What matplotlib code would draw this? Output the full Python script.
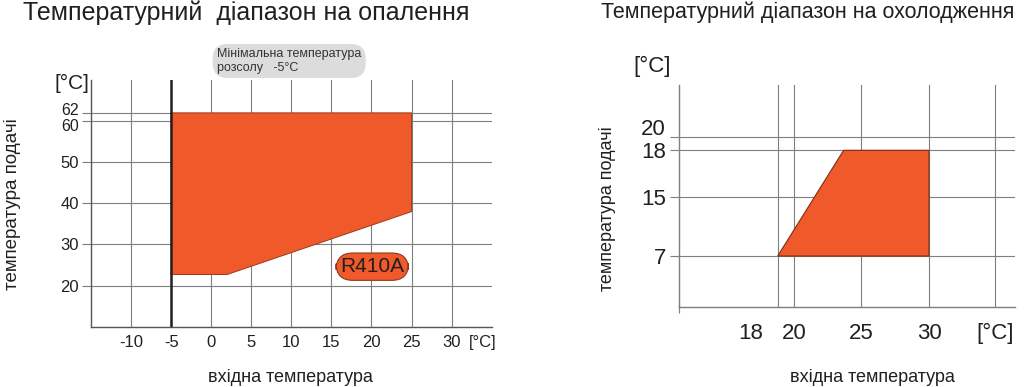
import numpy as np
import matplotlib
matplotlib.use("Agg")
import matplotlib.pyplot as plt
from matplotlib.patches import Polygon
import matplotlib.transforms as mtransforms

plt.rcParams['font.family'] = ['Liberation Sans', 'DejaVu Sans']

# ---- heating range (left) ----
heat_x = [-5, 25, 25, 2, -5]
heat_y = [62, 62, 38, 22.7, 22.7]
heat_xticks = [-10, -5, 0, 5, 10, 15, 20, 25, 30]
heat_yticks = [20, 30, 40, 50, 60, 62]
brine_min = -5

# ---- cooling range (right) ----
cool_x = [18, 23.7, 30, 30]
cool_y = [7, 18, 18, 7]
cool_xticks = [18, 20, 25, 30]
cool_yticks = [7, 15, 18, 20]
cool_xgrid = [18, 20, 25, 30, 35]

# the cooling chart is drawn on an uneven (schematic) scale
cool_xmap = ([10, 18, 20, 25, 30, 35, 36.5], [0, 98.7, 115.3, 182, 250, 316, 336])
cool_ymap = ([0, 7, 15, 18, 20, 25], [0, 51.3, 110.3, 157, 170.3, 222.3])

ORANGE = '#F05A2B'
GRID = '#7f7f7f'
AXC = '#555555'
TXT = '#231f20'

fig = plt.figure(figsize=(10.24, 3.87), dpi=100)

def shift(label, dx_px, dy_px):
    label.set_transform(label.get_transform() +
                        mtransforms.ScaledTranslation(dx_px/100, dy_px/100, fig.dpi_scale_trans))

# ===== left chart =====
ax = fig.add_axes([91/1024, 1-326.7/387, 400.7/1024, 246.7/387])
ax.set_xlim(-15, 35)
ax.set_ylim(10, 70)
for s in ['top', 'right']:
    ax.spines[s].set_visible(False)
for s in ['left', 'bottom']:
    ax.spines[s].set_color(AXC)
    ax.spines[s].set_linewidth(1.0)
ax.set_xticks(heat_xticks)
ax.set_xticklabels([str(v) for v in heat_xticks], fontsize=12, color=TXT)
ax.set_yticks(heat_yticks)
ax.set_yticklabels([str(v) for v in heat_yticks], fontsize=12, color=TXT)
ax.tick_params(axis='x', length=0, pad=6)
ax.tick_params(axis='y', length=6.5, color=GRID, width=0.8, pad=2)
ylabs = ax.get_yticklabels()
ylabs[-1].set_fontsize(11.5)
ylabs[-2].set_fontsize(11.5)
shift(ylabs[-1], 0, 3.5)
shift(ylabs[-2], 0, -3.5)
ax.grid(True, color=GRID, linewidth=0.8)
ax.set_axisbelow(True)
ax.add_patch(Polygon(np.column_stack([heat_x, heat_y]), closed=True,
                     facecolor=ORANGE, edgecolor='#9a3a1c', linewidth=0.7, zorder=2))
ax.axvline(brine_min, color=TXT, linewidth=1.8, zorder=3)
ax.text(32.2, 10, '[°C]', fontsize=12, color=TXT, va='top', ha='left')
shift(ax.texts[-1], 0, -8)
ax.text(20.1, 24.6, 'R410A', fontsize=15, color=TXT, ha='center', va='center',
        bbox=dict(boxstyle='round,pad=0.2,rounding_size=0.8', facecolor=ORANGE,
                  edgecolor='#8a3a1c', linewidth=0.8))
fig.text(72/1024, 1-83/387, '[°C]', fontsize=15, color=TXT, ha='center', va='center')
fig.text(217/1024, 1-61/387, 'Мінімальна температура\nрозсолу   -5°C', fontsize=9,
         color='#333333', ha='left', va='center', linespacing=1.15,
         bbox=dict(boxstyle='round,pad=0.35,rounding_size=1.2', facecolor='#dcdcdc',
                   edgecolor='none'))
fig.text(246/1024, 1-13/387, 'Температурний  діапазон на опалення', fontsize=18,
         color=TXT, ha='center', va='center')
fig.text(13/1024, 1-204/387, 'температура подачі', fontsize=13.5, rotation=90,
         color=TXT, ha='center', va='center')
fig.text(290/1024, 1-378/387, 'вхідна температура', fontsize=13,
         color=TXT, ha='center', va='center')

# ===== right chart =====
def fx(v):
    return np.interp(v, cool_xmap[0], cool_xmap[1])
def fx_inv(v):
    return np.interp(v, cool_xmap[1], cool_xmap[0])
def fy(v):
    return np.interp(v, cool_ymap[0], cool_ymap[1])
def fy_inv(v):
    return np.interp(v, cool_ymap[1], cool_ymap[0])

bx = fig.add_axes([679/1024, 1-307.3/387, 336/1024, 222.3/387])
bx.set_xscale('function', functions=(fx, fx_inv))
bx.set_yscale('function', functions=(fy, fy_inv))
bx.set_xlim(10, 36.5)
bx.set_ylim(0, 25)
for s in ['top', 'right']:
    bx.spines[s].set_visible(False)
for s in ['left', 'bottom']:
    bx.spines[s].set_color(GRID)
    bx.spines[s].set_linewidth(1.0)
for v in cool_xgrid:
    bx.axvline(v, color=GRID, linewidth=0.8, zorder=1)
bx.set_yticks(cool_yticks)
bx.set_yticklabels([str(v) for v in cool_yticks], fontsize=16, color=TXT)
bx.yaxis.grid(True, color=GRID, linewidth=0.8)
bx.set_axisbelow(True)
bx.tick_params(axis='y', which='major', length=6.5, color=GRID, width=0.8, pad=3)
bx.yaxis.set_minor_locator(matplotlib.ticker.NullLocator())
shift(bx.get_yticklabels()[-1], 0, 10)
bx.set_xticks(cool_xticks + [35])
bx.set_xticklabels([str(v) for v in cool_xticks] + ['[°C]'], fontsize=16, color=TXT)
bx.set_xticks([10, 18, 20, 35], minor=True)
bx.tick_params(axis='x', which='major', length=0, pad=11)
bx.tick_params(axis='x', which='minor', length=8, direction='inout', color=GRID, width=0.8)
shift(bx.get_xticklabels()[0], -27, 0)
bx.add_patch(Polygon(np.column_stack([cool_x, cool_y]), closed=True,
                     facecolor=ORANGE, edgecolor='#7a2e16', linewidth=0.8, zorder=2))
fig.text(652/1024, 1-66/387, '[°C]', fontsize=16, color=TXT, ha='center', va='center')
fig.text(808/1024, 1-12/387, 'Температурний діапазон на охолодження', fontsize=15.5,
         color=TXT, ha='center', va='center')
fig.text(608/1024, 1-209/387, 'температура подачі', fontsize=13, rotation=90,
         color=TXT, ha='center', va='center')
fig.text(872/1024, 1-377/387, 'вхідна температура', fontsize=13,
         color=TXT, ha='center', va='center')

fig.savefig('out.png', dpi=100, facecolor='white')
